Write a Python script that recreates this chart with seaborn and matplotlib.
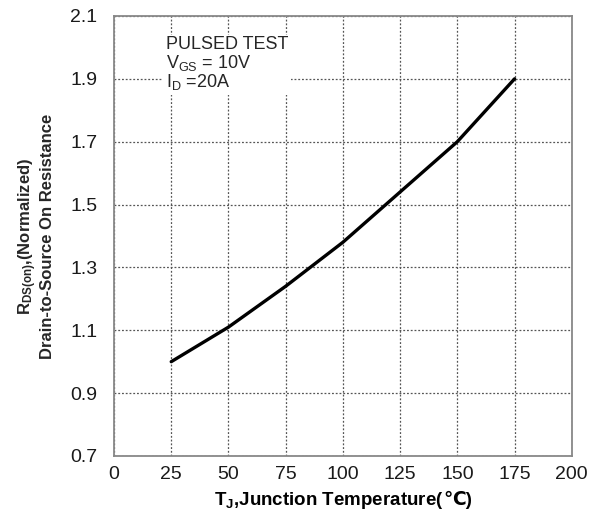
import matplotlib
matplotlib.use("Agg")
import matplotlib.pyplot as plt
import seaborn as sns
import pandas as pd
from matplotlib.offsetbox import TextArea, HPacker, AnchoredOffsetbox

temperature = [25, 50, 75, 100, 125, 150, 175]
resistance = [1.00, 1.11, 1.24, 1.38, 1.54, 1.70, 1.90]
x_ticks = [0, 25, 50, 75, 100, 125, 150, 175, 200]
y_ticks = [0.7, 0.9, 1.1, 1.3, 1.5, 1.7, 1.9, 2.1]

sns.set_theme(style="white")
plt.rcParams['font.family'] = ['Liberation Sans', 'DejaVu Sans']
plt.rcParams['mathtext.fontset'] = 'custom'
plt.rcParams['mathtext.rm'] = 'Liberation Sans'
plt.rcParams['mathtext.bf'] = 'Liberation Sans:bold'
plt.rcParams['mathtext.it'] = 'Liberation Sans:italic'
plt.rcParams['mathtext.default'] = 'rm'

df = pd.DataFrame({"T": temperature, "R": resistance})

fig = plt.figure(figsize=(6.0, 5.15), dpi=100)
ax = fig.add_axes([0.19, 0.1146, 0.763, 0.8544])

sns.lineplot(data=df, x="T", y="R", ax=ax, color="black", linewidth=2.4)

ax.set_xlim(0, 200)
ax.set_ylim(0.7, 2.1)
ax.set_xticks(x_ticks)
ax.set_yticks(y_ticks)
ax.set_xticklabels([str(v) for v in x_ticks], fontsize=14, color="#1a1a1a")
ax.set_yticklabels([f"{v:.1f}" for v in y_ticks], fontsize=14, color="#1a1a1a")
ax.tick_params(axis="x", length=0, pad=7)
ax.tick_params(axis="y", length=0, pad=12)

ax.grid(True, color="#555555", linestyle=(0, (1.5, 1.5)), linewidth=0.9)
for s in ax.spines.values():
    s.set_color("#888888")
    s.set_linewidth(1.3)

ax.set_xlabel("")
ax.set_ylabel(r"$\mathbf{R_{DS(on)}}$,(Normalized)" + "\nDrain-to-Source On Resistance",
              fontsize=12, fontweight="bold", labelpad=11, linespacing=1.05)

# x label composed so that the ℃ sign can fall back to DejaVu Sans
lab_props = dict(fontsize=13.5, fontweight="bold", color="black")
part1 = TextArea(r"$\mathbf{T_J}$,Junction Temperature(", textprops=lab_props)
part2 = TextArea("℃)", textprops=dict(fontsize=13.5, fontweight="bold", color="black",
                                       family=["Liberation Sans", "DejaVu Sans"]))
pack = HPacker(children=[part1, part2], align="baseline", pad=0, sep=0)
box = AnchoredOffsetbox(loc="upper center", child=pack, frameon=False,
                        bbox_to_anchor=(0.5, -0.078), bbox_transform=ax.transAxes,
                        borderpad=0, pad=0)
ax.add_artist(box)

ax.text(22.5, 2.035, "PULSED TEST\nV$_{GS}$ = 10V\nI$_D$ =20A", fontsize=13,
        va="top", ha="left", linespacing=0.95,
        bbox=dict(facecolor="white", edgecolor="none", pad=2))

fig.savefig("out.png", dpi=100)
